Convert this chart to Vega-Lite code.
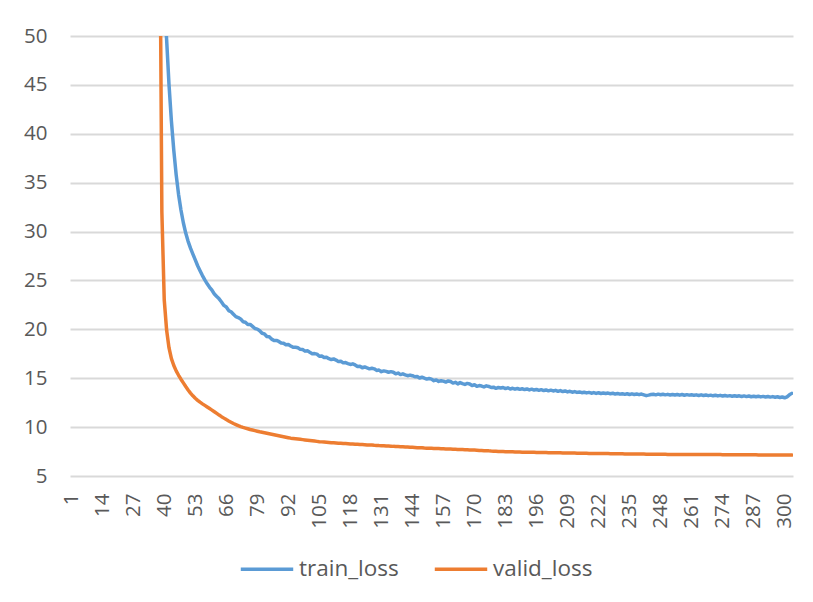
{
"$schema": "https://vega.github.io/schema/vega-lite/v6.json",
"width": 723, "height": 440,
"autosize": {"type": "none"},
"padding": {"left": 70, "top": 36, "right": 20, "bottom": 126},
"background": "white",
"config": {"view": {"stroke": null}, "font": "Open Sans"},
"data": {"values": [
{"epoch":1,"train_loss":1450,"valid_loss":1000},{"epoch":2,"train_loss":1380,"valid_loss":960},{"epoch":3,"train_loss":1310,"valid_loss":920},{"epoch":4,"train_loss":1240,"valid_loss":880},{"epoch":5,"train_loss":1170,"valid_loss":840},{"epoch":6,"train_loss":1100,"valid_loss":800},{"epoch":7,"train_loss":1030,"valid_loss":760},{"epoch":8,"train_loss":960,"valid_loss":720},{"epoch":9,"train_loss":895,"valid_loss":680},{"epoch":10,"train_loss":830,"valid_loss":640},
{"epoch":11,"train_loss":770,"valid_loss":600},{"epoch":12,"train_loss":710,"valid_loss":560},{"epoch":13,"train_loss":655,"valid_loss":520},{"epoch":14,"train_loss":600,"valid_loss":485},{"epoch":15,"train_loss":550,"valid_loss":450},{"epoch":16,"train_loss":500,"valid_loss":415},{"epoch":17,"train_loss":455,"valid_loss":380},{"epoch":18,"train_loss":410,"valid_loss":350},{"epoch":19,"train_loss":370,"valid_loss":320},{"epoch":20,"train_loss":332,"valid_loss":290},
{"epoch":21,"train_loss":297,"valid_loss":262},{"epoch":22,"train_loss":265,"valid_loss":236},{"epoch":23,"train_loss":236,"valid_loss":212},{"epoch":24,"train_loss":210,"valid_loss":190},{"epoch":25,"train_loss":187,"valid_loss":170},{"epoch":26,"train_loss":166,"valid_loss":152},{"epoch":27,"train_loss":148,"valid_loss":136},{"epoch":28,"train_loss":132,"valid_loss":122},{"epoch":29,"train_loss":118,"valid_loss":110},{"epoch":30,"train_loss":106,"valid_loss":100},
{"epoch":31,"train_loss":96,"valid_loss":92},{"epoch":32,"train_loss":88,"valid_loss":86},{"epoch":33,"train_loss":81,"valid_loss":81},{"epoch":34,"train_loss":75,"valid_loss":77},{"epoch":35,"train_loss":70,"valid_loss":74},{"epoch":36,"train_loss":66,"valid_loss":72},{"epoch":37,"train_loss":62.5,"valid_loss":70},{"epoch":38,"train_loss":59.5,"valid_loss":68},{"epoch":39,"train_loss":56.5,"valid_loss":32},{"epoch":40,"train_loss":53.5,"valid_loss":23},
{"epoch":41,"train_loss":49.6,"valid_loss":19.9},{"epoch":42,"train_loss":45.0,"valid_loss":18.1},{"epoch":43,"train_loss":41.3,"valid_loss":17.0},{"epoch":44,"train_loss":38.3,"valid_loss":16.3},{"epoch":45,"train_loss":35.8,"valid_loss":15.75},{"epoch":46,"train_loss":33.8,"valid_loss":15.3},{"epoch":47,"train_loss":32.2,"valid_loss":14.9},{"epoch":48,"train_loss":30.9,"valid_loss":14.52},{"epoch":49,"train_loss":29.85,"valid_loss":14.15},{"epoch":50,"train_loss":29.0,"valid_loss":13.8},
{"epoch":51,"train_loss":28.3,"valid_loss":13.48},{"epoch":52,"train_loss":27.7,"valid_loss":13.2},{"epoch":53,"train_loss":27.1,"valid_loss":12.95},{"epoch":54,"train_loss":26.5,"valid_loss":12.74},{"epoch":55,"train_loss":26.0,"valid_loss":12.55},{"epoch":56,"train_loss":25.5,"valid_loss":12.38},{"epoch":57,"train_loss":25.05,"valid_loss":12.22},{"epoch":58,"train_loss":24.65,"valid_loss":12.06},{"epoch":59,"train_loss":24.3,"valid_loss":11.9},{"epoch":60,"train_loss":24.0,"valid_loss":11.74},
{"epoch":61,"train_loss":23.62,"valid_loss":11.57},{"epoch":62,"train_loss":23.36,"valid_loss":11.4},{"epoch":63,"train_loss":23.12,"valid_loss":11.23},{"epoch":64,"train_loss":22.8,"valid_loss":11.07},{"epoch":65,"train_loss":22.45,"valid_loss":10.92},{"epoch":66,"train_loss":22.28,"valid_loss":10.77},{"epoch":67,"train_loss":21.92,"valid_loss":10.63},{"epoch":68,"train_loss":21.8,"valid_loss":10.5},{"epoch":69,"train_loss":21.55,"valid_loss":10.37},{"epoch":70,"train_loss":21.3,"valid_loss":10.26},
{"epoch":71,"train_loss":21.2,"valid_loss":10.15},{"epoch":72,"train_loss":21.06,"valid_loss":10.05},{"epoch":73,"train_loss":20.78,"valid_loss":9.97},{"epoch":74,"train_loss":20.73,"valid_loss":9.9},{"epoch":75,"train_loss":20.5,"valid_loss":9.83},{"epoch":76,"train_loss":20.5,"valid_loss":9.76},{"epoch":77,"train_loss":20.3,"valid_loss":9.7},{"epoch":78,"train_loss":20.08,"valid_loss":9.64},{"epoch":79,"train_loss":20.02,"valid_loss":9.58},{"epoch":80,"train_loss":19.86,"valid_loss":9.52},
{"epoch":81,"train_loss":19.6,"valid_loss":9.47},{"epoch":82,"train_loss":19.53,"valid_loss":9.42},{"epoch":83,"train_loss":19.27,"valid_loss":9.37},{"epoch":84,"train_loss":19.25,"valid_loss":9.32},{"epoch":85,"train_loss":19.0,"valid_loss":9.27},{"epoch":86,"train_loss":18.86,"valid_loss":9.22},{"epoch":87,"train_loss":18.87,"valid_loss":9.17},{"epoch":88,"train_loss":18.76,"valid_loss":9.12},{"epoch":89,"train_loss":18.6,"valid_loss":9.07},{"epoch":90,"train_loss":18.58,"valid_loss":9.02},
{"epoch":91,"train_loss":18.42,"valid_loss":8.97},{"epoch":92,"train_loss":18.45,"valid_loss":8.92},{"epoch":93,"train_loss":18.3,"valid_loss":8.87},{"epoch":94,"train_loss":18.16,"valid_loss":8.84},{"epoch":95,"train_loss":18.17,"valid_loss":8.81},{"epoch":96,"train_loss":18.11,"valid_loss":8.78},{"epoch":97,"train_loss":17.95,"valid_loss":8.75},{"epoch":98,"train_loss":17.93,"valid_loss":8.72},{"epoch":99,"train_loss":17.77,"valid_loss":8.69},{"epoch":100,"train_loss":17.8,"valid_loss":8.66},
{"epoch":101,"train_loss":17.65,"valid_loss":8.63},{"epoch":102,"train_loss":17.51,"valid_loss":8.6},{"epoch":103,"train_loss":17.52,"valid_loss":8.57},{"epoch":104,"train_loss":17.46,"valid_loss":8.54},{"epoch":105,"train_loss":17.25,"valid_loss":8.51},{"epoch":106,"train_loss":17.28,"valid_loss":8.49},{"epoch":107,"train_loss":17.12,"valid_loss":8.47},{"epoch":108,"train_loss":17.15,"valid_loss":8.45},{"epoch":109,"train_loss":17.0,"valid_loss":8.43},{"epoch":110,"train_loss":16.91,"valid_loss":8.41},
{"epoch":111,"train_loss":16.97,"valid_loss":8.4},{"epoch":112,"train_loss":16.86,"valid_loss":8.38},{"epoch":113,"train_loss":16.7,"valid_loss":8.36},{"epoch":114,"train_loss":16.73,"valid_loss":8.35},{"epoch":115,"train_loss":16.57,"valid_loss":8.33},{"epoch":116,"train_loss":16.6,"valid_loss":8.32},{"epoch":117,"train_loss":16.5,"valid_loss":8.3},{"epoch":118,"train_loss":16.41,"valid_loss":8.28},{"epoch":119,"train_loss":16.47,"valid_loss":8.27},{"epoch":120,"train_loss":16.36,"valid_loss":8.25},
{"epoch":121,"train_loss":16.2,"valid_loss":8.24},{"epoch":122,"train_loss":16.23,"valid_loss":8.22},{"epoch":123,"train_loss":16.07,"valid_loss":8.21},{"epoch":124,"train_loss":16.15,"valid_loss":8.2},{"epoch":125,"train_loss":16.05,"valid_loss":8.18},{"epoch":126,"train_loss":15.96,"valid_loss":8.17},{"epoch":127,"train_loss":16.02,"valid_loss":8.16},{"epoch":128,"train_loss":15.96,"valid_loss":8.14},{"epoch":129,"train_loss":15.8,"valid_loss":8.13},{"epoch":130,"train_loss":15.83,"valid_loss":8.11},
{"epoch":131,"train_loss":15.67,"valid_loss":8.1},{"epoch":132,"train_loss":15.75,"valid_loss":8.09},{"epoch":133,"train_loss":15.7,"valid_loss":8.07},{"epoch":134,"train_loss":15.61,"valid_loss":8.06},{"epoch":135,"train_loss":15.67,"valid_loss":8.05},{"epoch":136,"train_loss":15.61,"valid_loss":8.03},{"epoch":137,"train_loss":15.45,"valid_loss":8.02},{"epoch":138,"train_loss":15.53,"valid_loss":8.01},{"epoch":139,"train_loss":15.37,"valid_loss":8.0},{"epoch":140,"train_loss":15.45,"valid_loss":7.99},
{"epoch":141,"train_loss":15.35,"valid_loss":7.97},{"epoch":142,"train_loss":15.26,"valid_loss":7.96},{"epoch":143,"train_loss":15.32,"valid_loss":7.94},{"epoch":144,"train_loss":15.26,"valid_loss":7.93},{"epoch":145,"train_loss":15.15,"valid_loss":7.92},{"epoch":146,"train_loss":15.18,"valid_loss":7.9},{"epoch":147,"train_loss":15.02,"valid_loss":7.89},{"epoch":148,"train_loss":15.1,"valid_loss":7.88},{"epoch":149,"train_loss":15.0,"valid_loss":7.86},{"epoch":150,"train_loss":14.91,"valid_loss":7.85},
{"epoch":151,"train_loss":14.97,"valid_loss":7.84},{"epoch":152,"train_loss":14.91,"valid_loss":7.83},{"epoch":153,"train_loss":14.75,"valid_loss":7.82},{"epoch":154,"train_loss":14.83,"valid_loss":7.81},{"epoch":155,"train_loss":14.67,"valid_loss":7.8},{"epoch":156,"train_loss":14.75,"valid_loss":7.79},{"epoch":157,"train_loss":14.7,"valid_loss":7.78},{"epoch":158,"train_loss":14.61,"valid_loss":7.77},{"epoch":159,"train_loss":14.72,"valid_loss":7.76},{"epoch":160,"train_loss":14.66,"valid_loss":7.75},
{"epoch":161,"train_loss":14.5,"valid_loss":7.74},{"epoch":162,"train_loss":14.58,"valid_loss":7.73},{"epoch":163,"train_loss":14.42,"valid_loss":7.72},{"epoch":164,"train_loss":14.55,"valid_loss":7.71},{"epoch":165,"train_loss":14.45,"valid_loss":7.7},{"epoch":166,"train_loss":14.36,"valid_loss":7.69},{"epoch":167,"train_loss":14.47,"valid_loss":7.68},{"epoch":168,"train_loss":14.41,"valid_loss":7.67},{"epoch":169,"train_loss":14.25,"valid_loss":7.66},{"epoch":170,"train_loss":14.33,"valid_loss":7.65},
{"epoch":171,"train_loss":14.17,"valid_loss":7.64},{"epoch":172,"train_loss":14.25,"valid_loss":7.62},{"epoch":173,"train_loss":14.2,"valid_loss":7.61},{"epoch":174,"train_loss":14.11,"valid_loss":7.59},{"epoch":175,"train_loss":14.22,"valid_loss":7.58},{"epoch":176,"train_loss":14.16,"valid_loss":7.57},{"epoch":177,"train_loss":14.05,"valid_loss":7.55},{"epoch":178,"train_loss":14.08,"valid_loss":7.54},{"epoch":179,"train_loss":13.97,"valid_loss":7.53},{"epoch":180,"train_loss":14.05,"valid_loss":7.51},
{"epoch":181,"train_loss":14.0,"valid_loss":7.5},{"epoch":182,"train_loss":14.05,"valid_loss":7.5},{"epoch":183,"train_loss":13.94,"valid_loss":7.49},{"epoch":184,"train_loss":14.02,"valid_loss":7.48},{"epoch":185,"train_loss":13.9,"valid_loss":7.48},{"epoch":186,"train_loss":13.97,"valid_loss":7.47},{"epoch":187,"train_loss":13.88,"valid_loss":7.46},{"epoch":188,"train_loss":13.95,"valid_loss":7.46},{"epoch":189,"train_loss":13.86,"valid_loss":7.45},{"epoch":190,"train_loss":13.92,"valid_loss":7.44},
{"epoch":191,"train_loss":13.84,"valid_loss":7.44},{"epoch":192,"train_loss":13.9,"valid_loss":7.43},{"epoch":193,"train_loss":13.8,"valid_loss":7.43},{"epoch":194,"train_loss":13.88,"valid_loss":7.42},{"epoch":195,"train_loss":13.79,"valid_loss":7.42},{"epoch":196,"train_loss":13.85,"valid_loss":7.41},{"epoch":197,"train_loss":13.76,"valid_loss":7.41},{"epoch":198,"train_loss":13.83,"valid_loss":7.4},{"epoch":199,"train_loss":13.74,"valid_loss":7.4},{"epoch":200,"train_loss":13.8,"valid_loss":7.4},
{"epoch":201,"train_loss":13.71,"valid_loss":7.39},{"epoch":202,"train_loss":13.78,"valid_loss":7.39},{"epoch":203,"train_loss":13.7,"valid_loss":7.38},{"epoch":204,"train_loss":13.76,"valid_loss":7.38},{"epoch":205,"train_loss":13.66,"valid_loss":7.37},{"epoch":206,"train_loss":13.74,"valid_loss":7.37},{"epoch":207,"train_loss":13.64,"valid_loss":7.36},{"epoch":208,"train_loss":13.7,"valid_loss":7.36},{"epoch":209,"train_loss":13.6,"valid_loss":7.35},{"epoch":210,"train_loss":13.66,"valid_loss":7.35},
{"epoch":211,"train_loss":13.57,"valid_loss":7.34},{"epoch":212,"train_loss":13.63,"valid_loss":7.34},{"epoch":213,"train_loss":13.55,"valid_loss":7.33},{"epoch":214,"train_loss":13.6,"valid_loss":7.33},{"epoch":215,"train_loss":13.52,"valid_loss":7.32},{"epoch":216,"train_loss":13.57,"valid_loss":7.32},{"epoch":217,"train_loss":13.5,"valid_loss":7.32},{"epoch":218,"train_loss":13.55,"valid_loss":7.31},{"epoch":219,"train_loss":13.47,"valid_loss":7.31},{"epoch":220,"train_loss":13.53,"valid_loss":7.31},
{"epoch":221,"train_loss":13.45,"valid_loss":7.3},{"epoch":222,"train_loss":13.51,"valid_loss":7.3},{"epoch":223,"train_loss":13.44,"valid_loss":7.3},{"epoch":224,"train_loss":13.49,"valid_loss":7.29},{"epoch":225,"train_loss":13.43,"valid_loss":7.29},{"epoch":226,"train_loss":13.48,"valid_loss":7.29},{"epoch":227,"train_loss":13.41,"valid_loss":7.28},{"epoch":228,"train_loss":13.46,"valid_loss":7.28},{"epoch":229,"train_loss":13.38,"valid_loss":7.28},{"epoch":230,"train_loss":13.44,"valid_loss":7.27},
{"epoch":231,"train_loss":13.37,"valid_loss":7.27},{"epoch":232,"train_loss":13.42,"valid_loss":7.27},{"epoch":233,"train_loss":13.35,"valid_loss":7.26},{"epoch":234,"train_loss":13.41,"valid_loss":7.26},{"epoch":235,"train_loss":13.34,"valid_loss":7.26},{"epoch":236,"train_loss":13.4,"valid_loss":7.25},{"epoch":237,"train_loss":13.33,"valid_loss":7.25},{"epoch":238,"train_loss":13.38,"valid_loss":7.25},{"epoch":239,"train_loss":13.32,"valid_loss":7.24},{"epoch":240,"train_loss":13.38,"valid_loss":7.24},
{"epoch":241,"train_loss":13.3,"valid_loss":7.24},{"epoch":242,"train_loss":13.22,"valid_loss":7.23},{"epoch":243,"train_loss":13.27,"valid_loss":7.23},{"epoch":244,"train_loss":13.33,"valid_loss":7.23},{"epoch":245,"train_loss":13.36,"valid_loss":7.23},{"epoch":246,"train_loss":13.3,"valid_loss":7.22},{"epoch":247,"train_loss":13.37,"valid_loss":7.22},{"epoch":248,"train_loss":13.31,"valid_loss":7.22},{"epoch":249,"train_loss":13.36,"valid_loss":7.22},{"epoch":250,"train_loss":13.3,"valid_loss":7.22},
{"epoch":251,"train_loss":13.35,"valid_loss":7.21},{"epoch":252,"train_loss":13.29,"valid_loss":7.21},{"epoch":253,"train_loss":13.34,"valid_loss":7.21},{"epoch":254,"train_loss":13.28,"valid_loss":7.21},{"epoch":255,"train_loss":13.34,"valid_loss":7.21},{"epoch":256,"train_loss":13.27,"valid_loss":7.21},{"epoch":257,"train_loss":13.33,"valid_loss":7.21},{"epoch":258,"train_loss":13.26,"valid_loss":7.2},{"epoch":259,"train_loss":13.32,"valid_loss":7.2},{"epoch":260,"train_loss":13.27,"valid_loss":7.2},
{"epoch":261,"train_loss":13.31,"valid_loss":7.2},{"epoch":262,"train_loss":13.25,"valid_loss":7.2},{"epoch":263,"train_loss":13.3,"valid_loss":7.2},{"epoch":264,"train_loss":13.24,"valid_loss":7.2},{"epoch":265,"train_loss":13.3,"valid_loss":7.2},{"epoch":266,"train_loss":13.23,"valid_loss":7.19},{"epoch":267,"train_loss":13.28,"valid_loss":7.19},{"epoch":268,"train_loss":13.22,"valid_loss":7.19},{"epoch":269,"train_loss":13.27,"valid_loss":7.19},{"epoch":270,"train_loss":13.2,"valid_loss":7.19},
{"epoch":271,"train_loss":13.26,"valid_loss":7.19},{"epoch":272,"train_loss":13.19,"valid_loss":7.19},{"epoch":273,"train_loss":13.25,"valid_loss":7.19},{"epoch":274,"train_loss":13.18,"valid_loss":7.18},{"epoch":275,"train_loss":13.24,"valid_loss":7.18},{"epoch":276,"train_loss":13.17,"valid_loss":7.18},{"epoch":277,"train_loss":13.22,"valid_loss":7.18},{"epoch":278,"train_loss":13.16,"valid_loss":7.18},{"epoch":279,"train_loss":13.21,"valid_loss":7.18},{"epoch":280,"train_loss":13.15,"valid_loss":7.18},
{"epoch":281,"train_loss":13.2,"valid_loss":7.17},{"epoch":282,"train_loss":13.13,"valid_loss":7.17},{"epoch":283,"train_loss":13.19,"valid_loss":7.17},{"epoch":284,"train_loss":13.12,"valid_loss":7.17},{"epoch":285,"train_loss":13.18,"valid_loss":7.17},{"epoch":286,"train_loss":13.11,"valid_loss":7.17},{"epoch":287,"train_loss":13.16,"valid_loss":7.17},{"epoch":288,"train_loss":13.1,"valid_loss":7.17},{"epoch":289,"train_loss":13.15,"valid_loss":7.16},{"epoch":290,"train_loss":13.09,"valid_loss":7.16},
{"epoch":291,"train_loss":13.14,"valid_loss":7.16},{"epoch":292,"train_loss":13.08,"valid_loss":7.16},{"epoch":293,"train_loss":13.13,"valid_loss":7.16},{"epoch":294,"train_loss":13.07,"valid_loss":7.16},{"epoch":295,"train_loss":13.12,"valid_loss":7.16},{"epoch":296,"train_loss":13.06,"valid_loss":7.16},{"epoch":297,"train_loss":13.1,"valid_loss":7.15},{"epoch":298,"train_loss":13.03,"valid_loss":7.15},{"epoch":299,"train_loss":13.08,"valid_loss":7.15},{"epoch":300,"train_loss":13.0,"valid_loss":7.15},
{"epoch":301,"train_loss":13.1,"valid_loss":7.15},{"epoch":302,"train_loss":13.3,"valid_loss":7.15},{"epoch":303,"train_loss":13.45,"valid_loss":7.15}
]},
"transform": [{"fold": ["train_loss", "valid_loss"], "as": ["series", "loss"]}],
"mark": {"type": "line", "clip": true, "strokeWidth": 3.5, "strokeJoin": "round", "strokeCap": "round"},
"encoding": {
  "x": {"field": "epoch", "type": "quantitative",
    "scale": {"domain": [0.5, 303.5], "nice": false, "zero": false},
    "axis": {"values": [1,14,27,40,53,66,79,92,105,118,131,144,157,170,183,196,209,222,235,248,261,274,287,300],
      "labelAngle": -90, "grid": false, "ticks": false, "domain": false, "labelOverlap": false, "labelFlush": false,
      "labelFont": "Open Sans", "labelFontSize": 20.5, "labelColor": "#595959", "labelPadding": 17, "title": null}},
  "y": {"field": "loss", "type": "quantitative",
    "scale": {"domain": [5, 50], "nice": false, "zero": false},
    "axis": {"values": [5,10,15,20,25,30,35,40,45,50], "grid": true, "gridColor": "#d9d9d9", "gridWidth": 2,
      "ticks": false, "domain": false, "labelFont": "Open Sans", "labelFontSize": 20.5, "labelColor": "#595959",
      "labelPadding": 23, "title": null}},
  "color": {"field": "series", "type": "nominal",
    "scale": {"domain": ["train_loss", "valid_loss"], "range": ["#5B9BD5", "#ED7D31"]},
    "legend": {"orient": "none", "legendX": 169, "legendY": 505, "direction": "horizontal", "title": null,
      "symbolType": "stroke", "symbolSize": 2750, "symbolStrokeWidth": 3.5,
      "labelFont": "Open Sans", "labelFontSize": 22.5, "labelColor": "#595959", "labelOffset": 4, "columnPadding": 28}}
}
}
